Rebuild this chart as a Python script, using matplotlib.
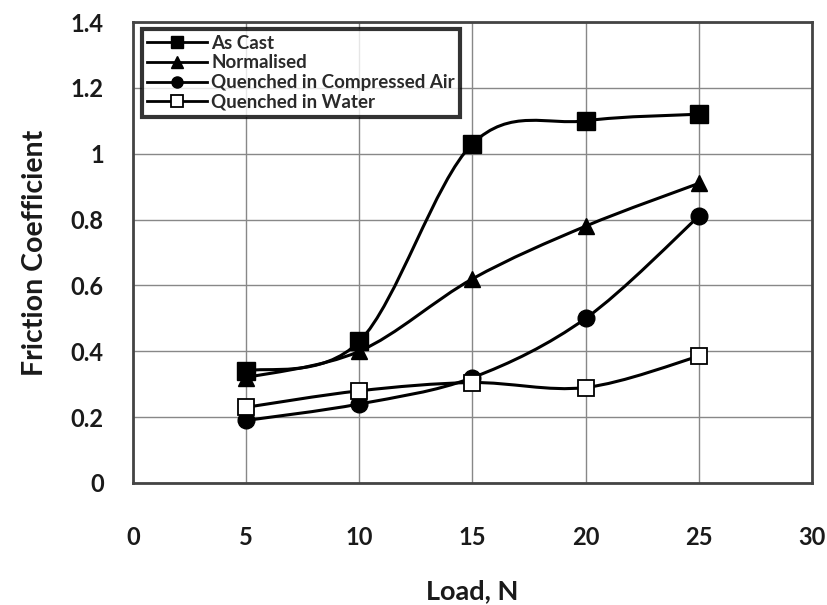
import numpy as np
import matplotlib.pyplot as plt
from matplotlib.path import Path
from matplotlib.patches import PathPatch
from matplotlib.lines import Line2D

plt.rcParams['font.family'] = ['Lato', 'DejaVu Sans']

# data
load = [5, 10, 15, 20, 25]
as_cast = [0.34, 0.43, 1.03, 1.10, 1.12]
normalised = [0.32, 0.40, 0.62, 0.78, 0.91]
quench_air = [0.19, 0.24, 0.32, 0.50, 0.81]
quench_water = [0.23, 0.28, 0.305, 0.29, 0.385]
labels = ['As Cast', 'Normalised', 'Quenched in Compressed Air', 'Quenched in Water']

xticks = [0, 5, 10, 15, 20, 25, 30]
yticks = [0, 0.2, 0.4, 0.6, 0.8, 1.0, 1.2, 1.4]
ytick_labels = ['0', '0.2', '0.4', '0.6', '0.8', '1', '1.2', '1.4']


def smooth_path(x, y):
    # Excel-style smoothed line: Catmull-Rom segments as cubic Beziers
    p = np.column_stack([x, y]).astype(float)
    ext = np.vstack([p[0], p, p[-1]])
    verts = [p[0]]
    codes = [Path.MOVETO]
    for i in range(len(p) - 1):
        p0, p1, p2, p3 = ext[i], ext[i + 1], ext[i + 2], ext[i + 3]
        c1 = p1 + (p2 - p0) / 6
        c2 = p2 - (p3 - p1) / 6
        verts += [c1, c2, p2]
        codes += [Path.CURVE4] * 3
    return Path(verts, codes)


fig = plt.figure(figsize=(8.28, 6.05), dpi=100)
ax = fig.add_axes([133 / 828, 1 - 483 / 605, (812 - 133) / 828, (483 - 22) / 605])

series = [
    (as_cast, dict(marker='s', markersize=13, markerfacecolor='black')),
    (normalised, dict(marker='^', markersize=12, markerfacecolor='black')),
    (quench_air, dict(marker='o', markersize=12, markerfacecolor='black')),
    (quench_water, dict(marker='s', markersize=12, markerfacecolor='white', markeredgewidth=1.3)),
]

handles = []
for (vals, mk), lab in zip(series, labels):
    ax.add_patch(PathPatch(smooth_path(load, vals), facecolor='none',
                           edgecolor='black', lw=2.2, zorder=3))
    ax.plot(load, vals, linestyle='none', markeredgecolor='black', zorder=4, **mk)
    small = dict(mk)
    small['markersize'] = 8
    handles.append(Line2D([], [], color='black', lw=2, markeredgecolor='black', **small))

ax.set_xlim(0, 30)
ax.set_ylim(0, 1.4)
ax.set_xticks(xticks)
ax.set_yticks(yticks)
ax.set_yticklabels(ytick_labels)
ax.tick_params(axis='both', length=0, labelsize=17)
ax.tick_params(axis='x', pad=31)
ax.tick_params(axis='y', pad=21)
for t in ax.get_xticklabels() + ax.get_yticklabels():
    t.set_fontweight('bold')
    t.set_color('#1a1a1a')

ax.grid(True, color='#888888', lw=1)
ax.set_axisbelow(True)
for s in ax.spines.values():
    s.set_linewidth(2)
    s.set_color('#444444')

ax.set_xlabel('Load, N', fontsize=19.5, fontweight='bold', labelpad=22, color='#1a1a1a')
ax.set_ylabel('Friction Coefficient', fontsize=20.5, fontweight='bold', labelpad=16, color='#1a1a1a')

leg = ax.legend(handles, labels, loc='upper left', bbox_to_anchor=(0.013, 0.985),
                fontsize=13.5, frameon=True, fancybox=False, handlelength=3.2,
                handletextpad=0.2, labelspacing=0.15, borderpad=0.3, borderaxespad=0)
leg.get_frame().set_edgecolor('black')
leg.get_frame().set_linewidth(3)
for t in leg.get_texts():
    t.set_color('#2a2a2a')
    t.set_fontweight('bold')

fig.savefig('out.png', dpi=100)
